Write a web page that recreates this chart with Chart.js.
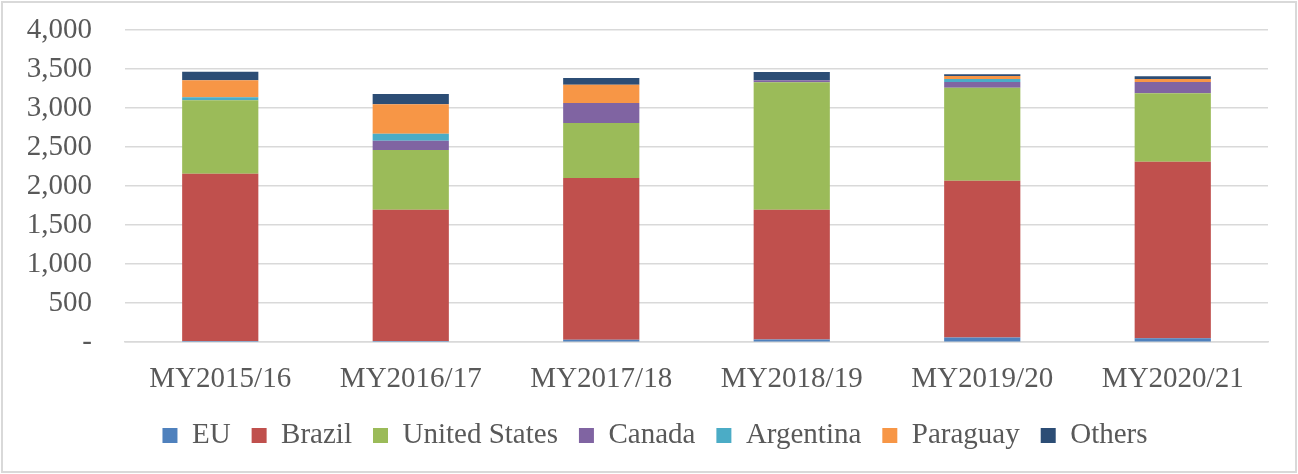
<!DOCTYPE html>
<html>
<head>
<meta charset="utf-8">
<script src="https://cdn.jsdelivr.net/npm/chart.js@4"></script>
<style>
  body { margin: 0; background: #fff; }
</style>
</head>
<body>
<canvas id="bar-chart" width="1298" height="474"></canvas>
<script>
const years = ["MY2015/16", "MY2016/17", "MY2017/18", "MY2018/19", "MY2019/20", "MY2020/21"]
const eu = [15, 15, 30, 35, 60, 50]
const brazil = [2144, 1683, 2074, 1663, 2010, 2263]
const unitedStates = [941, 765, 705, 1632, 1191, 876]
const canada = [0, 119, 256, 26, 73, 145]
const argentina = [38, 90, 0, 0, 38, 0]
const paraguay = [218, 376, 234, 0, 38, 38]
const others = [110, 132, 86, 106, 22, 35]

const yTicks = [0, 500, 1000, 1500, 2000, 2500, 3000, 3500, 4000]

const textColour = "#595959"
const font = {family: "'Liberation Serif', 'Times New Roman', serif", size: 29}

// light frame round the whole picture
const frame = {
  id: "frame",
  afterDraw(chart) {
    const ctx = chart.ctx
    ctx.save()
    ctx.strokeStyle = "#d9d9d9"
    ctx.lineWidth = 2
    ctx.strokeRect(2, 2, chart.width - 4, chart.height - 4)
    ctx.restore()
  }
}

const series = [
  ["EU", eu, "#4F81BD"],
  ["Brazil", brazil, "#C0504D"],
  ["United States", unitedStates, "#9BBB59"],
  ["Canada", canada, "#8064A2"],
  ["Argentina", argentina, "#4BACC6"],
  ["Paraguay", paraguay, "#F79646"],
  ["Others", others, "#2C4D75"]
]

new Chart("bar-chart", {
  type: "bar",
  data: {
    labels: years,
    datasets: series.map(s => ({label: s[0], data: s[1], backgroundColor: s[2],
      barPercentage: 0.4, categoryPercentage: 1.0}))
  },
  options: {
    responsive: false,
    animation: false,
    layout: {padding: {top: 30, right: 0, left: 12, bottom: 14}},
    plugins: {
      legend: {
        position: "bottom",
        labels: {color: textColour, font: font, boxWidth: 15, boxHeight: 15, padding: 21}
      },
      tooltip: {enabled: false}
    },
    scales: {
      x: {
        stacked: true,
        grid: {display: false, drawTicks: false},
        border: {color: "#d9d9d9", width: 1.5},
        ticks: {color: textColour, font: font, padding: 20},
        afterFit: axis => { axis.height = axis.height - 17 }
      },
      y: {
        stacked: true,
        min: 0,
        max: 4000,
        afterBuildTicks: axis => { axis.ticks = yTicks.map(v => ({value: v})) },
        afterFit: axis => { axis.width = 113 },
        // invisible tick marks keep the labels away from the plot
        grid: {color: "#d9d9d9", lineWidth: 1.5, drawTicks: true, tickLength: 33, tickColor: "rgba(0,0,0,0)"},
        border: {display: false},
        ticks: {
          color: textColour, font: font, padding: 0, autoSkip: false,
          callback: v => v === 0 ? "-" : v.toLocaleString("en-US")
        }
      },
      // empty strip on the right so the plot stops short of the frame
      spacer: {
        position: "right",
        grid: {display: false, drawTicks: false},
        border: {display: false},
        ticks: {display: false},
        afterFit: axis => { axis.width = 30 }
      }
    }
  },
  plugins: [frame]
});
</script>
</body>
</html>
